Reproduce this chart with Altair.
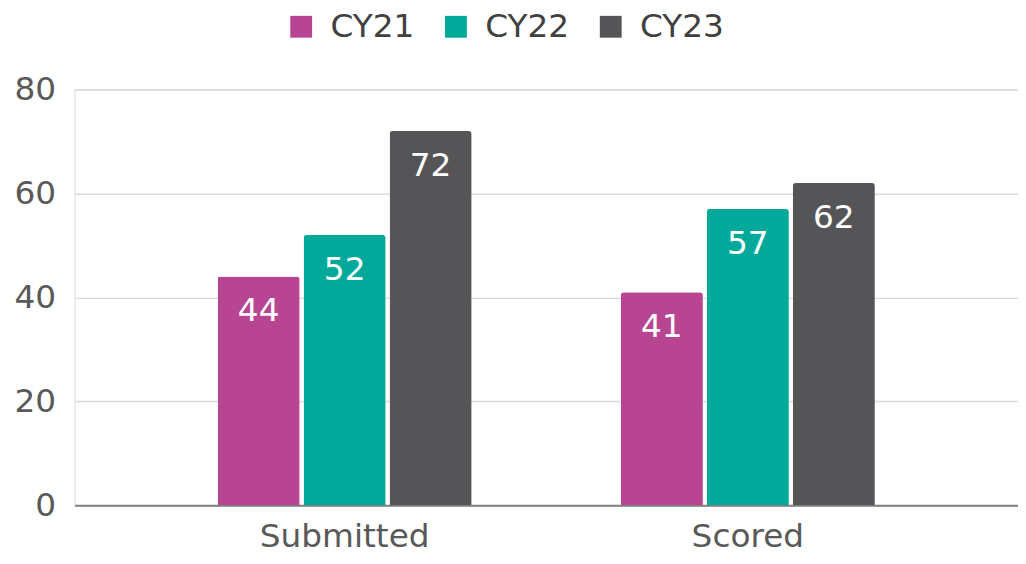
import altair as alt
import pandas as pd

categories = ["Submitted", "Submitted", "Submitted", "Scored", "Scored", "Scored"]
years = ["CY21", "CY22", "CY23", "CY21", "CY22", "CY23"]
values = [44, 52, 72, 41, 57, 62]

year_order = ["CY21", "CY22", "CY23"]
year_colors = ["#B84592", "#00A99A", "#555558"]
cat_order = ["Submitted", "Scored"]

df = pd.DataFrame({"category": categories, "year": years, "value": values})

FONT = "DejaVu Sans"
FS = 33

x = alt.X("category:N", sort=cat_order, title=None,
          scale=alt.Scale(paddingInner=0.37, paddingOuter=0.355),
          axis=alt.Axis(labelAngle=0, labelFontSize=FS, labelColor="#595959", labelFont=FONT,
                        ticks=False, domainColor="#808080", domainWidth=2,
                        labelBaseline="alphabetic", labelPadding=42))
xo = alt.XOffset("year:N", sort=year_order, scale=alt.Scale(paddingInner=0.046, paddingOuter=0))
y = alt.Y("value:Q", title=None,
          scale=alt.Scale(domain=[0, 80]),
          axis=alt.Axis(values=[0, 20, 40, 60, 80], labelFontSize=FS, labelColor="#595959",
                        labelFont=FONT, ticks=False, domain=False, labelPadding=19,
                        gridColor="#D9D9D9", gridWidth=1.5))

bars = alt.Chart(df).mark_bar(cornerRadiusTopLeft=3, cornerRadiusTopRight=3).encode(
    x=x, xOffset=xo, y=y,
    color=alt.Color("year:N", sort=year_order,
                    scale=alt.Scale(domain=year_order, range=year_colors),
                    legend=alt.Legend(title=None, orient="none", direction="horizontal",
                                      legendX=212, legendY=-80, symbolType="square",
                                      symbolSize=484, symbolStrokeWidth=0, labelFontSize=FS,
                                      labelFont=FONT, labelColor="#404040", labelOffset=13,
                                      columnPadding=25, symbolOpacity=1))
)

labels = alt.Chart(df).mark_text(baseline="middle", dy=35, color="white", fontSize=FS, font=FONT).encode(
    x=alt.X("category:N", sort=cat_order), xOffset=alt.XOffset("year:N", sort=year_order),
    y="value:Q", text="value:Q"
)

chart = (bars + labels).properties(
    width=951, height=419,
    autosize=alt.AutoSizeParams(type="none"),
    padding={"left": 67, "top": 80, "right": 0, "bottom": 49},
).configure_view(stroke=None).configure(background="white")

chart.save("out.html", embed_options={"renderer": "svg", "actions": False})
